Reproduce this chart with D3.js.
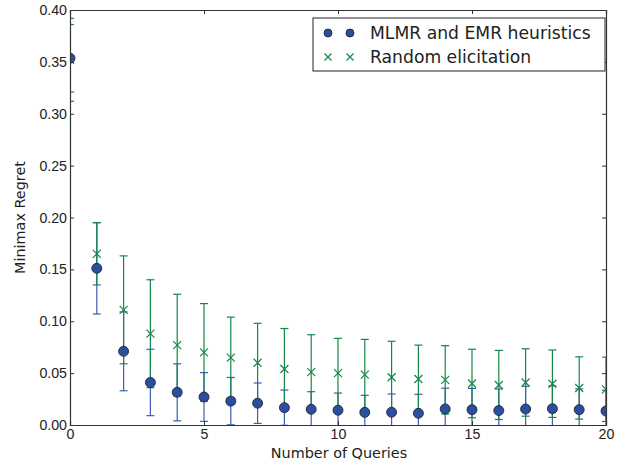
<!DOCTYPE html>
<html>
<head>
<meta charset="utf-8">
<script src="https://cdn.jsdelivr.net/npm/d3@7"></script>
<style>
  body { margin: 0; background: #fff; }
  svg { font-family: "DejaVu Sans", sans-serif; }
  .axis path { stroke: #333; }
  .axis line { stroke: #333; }
  .axis text { fill: #222; font-size: 14.2px; }
</style>
</head>
<body>
<svg id="chart" width="628" height="463"></svg>
<script>
// number of queries asked
var queries = [0, 1, 2, 3, 4, 5, 6, 7, 8, 9, 10, 11, 12, 13, 14, 15, 16, 17, 18, 19, 20];

// MLMR and EMR heuristics: mean regret and error
var mlmrMean = [0.3535, 0.151, 0.071, 0.041, 0.0315, 0.027, 0.023, 0.021, 0.0167, 0.0151, 0.0142,
  0.0122, 0.0123, 0.0113, 0.0155, 0.0148, 0.0139, 0.0154, 0.0157, 0.0148, 0.0135];
var mlmrErr = [0.0325, 0.044, 0.038, 0.032, 0.0275, 0.0235, 0.0228, 0.0195, 0.017, 0.017, 0.0166,
  0.0164, 0.0176, 0.0183, 0.020, 0.0205, 0.0208, 0.0219, 0.022, 0.020, 0.020];

// Random elicitation: mean regret and error
var randomMean = [0.352, 0.165, 0.111, 0.088, 0.077, 0.070, 0.065, 0.060, 0.054, 0.051, 0.050,
  0.0485, 0.046, 0.0443, 0.0435, 0.040, 0.0386, 0.041, 0.0398, 0.0357, 0.0344];
var randomErr = [0.040, 0.030, 0.052, 0.052, 0.049, 0.047, 0.039, 0.038, 0.039, 0.036, 0.0335,
  0.034, 0.0347, 0.0327, 0.033, 0.033, 0.0333, 0.0325, 0.0325, 0.030, 0.031];

var xTicks = [0, 5, 10, 15, 20];
var yTicks = [0, 0.05, 0.10, 0.15, 0.20, 0.25, 0.30, 0.35, 0.40];

var margin = { left: 70, right: 22, top: 10, bottom: 38 };
var width = 628 - margin.left - margin.right;
var height = 463 - margin.top - margin.bottom;

var blue = '#2b4f9f';
var blueBar = '#3d5eb0';
var green = '#13884a';

var svg = d3.select('#chart');
var g = svg.append('g')
  .attr('transform', 'translate(' + margin.left + ',' + margin.top + ')');

var x = d3.scaleLinear().domain([0, 20]).range([0, width]);
var y = d3.scaleLinear().domain([0, 0.4]).range([height, 0]);

g.append('clipPath').attr('id', 'clip')
  .append('rect').attr('width', width).attr('height', height);

var plot = g.append('g').attr('clip-path', 'url(#clip)');

function errorBars(mean, err, color, cls) {
  var rows = queries.map(function(q, i) {
    return { q: q, lo: mean[i] - err[i], hi: mean[i] + err[i] };
  });
  var eb = plot.append('g').attr('class', cls);
  eb.selectAll('line.v').data(rows).enter().append('line')
    .attr('class', 'v')
    .attr('x1', d => x(d.q)).attr('x2', d => x(d.q))
    .attr('y1', d => y(d.lo)).attr('y2', d => y(d.hi))
    .attr('stroke', color).attr('stroke-width', 1.2);
  ['lo', 'hi'].forEach(function(k) {
    eb.selectAll('line.' + k).data(rows).enter().append('line')
      .attr('class', k)
      .attr('x1', d => x(d.q) - 4).attr('x2', d => x(d.q) + 4)
      .attr('y1', d => y(d[k])).attr('y2', d => y(d[k]))
      .attr('stroke', color).attr('stroke-width', 1.2);
  });
}

errorBars(mlmrMean, mlmrErr, blueBar, 'eb-mlmr');
errorBars(randomMean, randomErr, green, 'eb-random');

function cross(sel, size) {
  sel.append('path')
    .attr('d', 'M' + (-size) + ',' + (-size) + 'L' + size + ',' + size +
      'M' + (-size) + ',' + size + 'L' + size + ',' + (-size))
    .attr('stroke', green).attr('stroke-width', 1.2).attr('fill', 'none');
}

plot.selectAll('g.xmark').data(randomMean).enter().append('g')
  .attr('class', 'xmark')
  .attr('transform', (d, i) => 'translate(' + x(queries[i]) + ',' + y(d) + ')')
  .call(cross, 4);

plot.selectAll('circle.dot').data(mlmrMean).enter().append('circle')
  .attr('class', 'dot')
  .attr('cx', (d, i) => x(queries[i]))
  .attr('cy', d => y(d))
  .attr('r', 5)
  .attr('fill', blue)
  .attr('stroke', '#1a1a2a').attr('stroke-width', 0.8);

// axes, matplotlib style with inward ticks on all sides
var fmt = d3.format('.2f');
g.append('g').attr('class', 'axis')
  .attr('transform', 'translate(0,' + height + ')')
  .call(d3.axisBottom(x).tickValues(xTicks).tickSize(-4).tickPadding(4).tickFormat(d3.format('d')));
g.append('g').attr('class', 'axis')
  .call(d3.axisTop(x).tickValues(xTicks).tickSize(-4).tickFormat(''));
g.append('g').attr('class', 'axis')
  .call(d3.axisLeft(y).tickValues(yTicks).tickSize(-4).tickPadding(3).tickFormat(fmt));
g.append('g').attr('class', 'axis')
  .attr('transform', 'translate(' + width + ',0)')
  .call(d3.axisRight(y).tickValues(yTicks).tickSize(-4).tickFormat(''));
g.selectAll('.axis .domain').attr('stroke-width', 1.2);

g.append('text')
  .attr('x', width / 2 + 1).attr('y', height + 33)
  .attr('text-anchor', 'middle')
  .attr('font-size', 14.4).attr('fill', '#222')
  .text('Number of Queries');

g.append('text')
  .attr('transform', 'translate(' + (-45) + ',' + (height / 2) + ') rotate(-90)')
  .attr('text-anchor', 'middle')
  .attr('font-size', 14.4).attr('fill', '#222')
  .text('Minimax Regret');

// legend
var legend = g.append('g').attr('transform', 'translate(' + (width - 293) + ',8)');
legend.append('rect')
  .attr('width', 292).attr('height', 53)
  .attr('fill', '#fff').attr('stroke', '#222').attr('stroke-width', 1);
[15, 37].forEach(function(dx) {
  legend.append('circle').attr('cx', dx).attr('cy', 15).attr('r', 4)
    .attr('fill', blue).attr('stroke', '#1a1a2a').attr('stroke-width', 0.8);
  legend.append('g').attr('transform', 'translate(' + dx + ',39)').call(cross, 3.5);
});
legend.append('text').attr('x', 57).attr('y', 21)
  .attr('font-size', 17.2).attr('fill', '#222').text('MLMR and EMR heuristics');
legend.append('text').attr('x', 57).attr('y', 45)
  .attr('font-size', 17.2).attr('fill', '#222').text('Random elicitation');
</script>
</body>
</html>
